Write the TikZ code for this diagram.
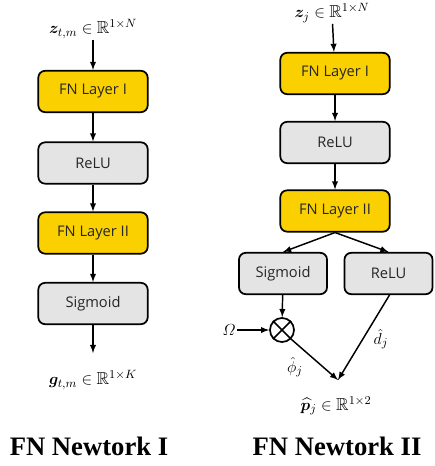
\documentclass[tikz,border=0pt]{standalone}
\usepackage{amsmath,amssymb,bm}
\usepackage{fontspec}
\setsansfont{Open Sans}
\newfontfamily\titlefont{Liberation Serif}
\usetikzlibrary{arrows,calc}
\definecolor{fnyellow}{RGB}{250,208,0}
\definecolor{actgray}{RGB}{228,228,228}

\begin{document}
\begin{tikzpicture}[x=0.75pt,y=-0.75pt,>=latex,
  blk/.style={draw=black,line width=1.3pt,rounded corners=5pt,minimum width=82pt,
    minimum height=31pt,inner sep=0pt,font=\sffamily\fontsize{11}{13}\selectfont,text=black!85},
  fn/.style={blk,fill=fnyellow},
  act/.style={blk,fill=actgray},
  lnk/.style={->,line width=1.1pt},
  lab/.style={font=\fontsize{13}{15}\selectfont,inner sep=1pt},
  ttl/.style={font=\titlefont\bfseries\fontsize{20}{22}\selectfont}]
\useasboundingbox (0,0) rectangle (434,466);

% FN Newtork I
\node[lab] (zA) at (93,29) {$\bm{z}_{t,m}\in\mathbb{R}^{1\times N}$};
\node[fn] (fnAa) at (93,91.5) {FN Layer I};
\node[act] (reluA) at (93,163) {ReLU};
\node[fn] (fnAb) at (93,233) {FN Layer II};
\node[act] (sigA) at (93,303.5) {Sigmoid};
\coordinate (gA) at (93,353);
\node[lab] (gAlab) at (93,380) {$\bm{g}_{t,m}\in\mathbb{R}^{1\times K}$};
\node[ttl] (ttlA) at (89,446) {FN Newtork I};

\draw[lnk] (zA) -- (fnAa);
\draw[lnk] (fnAa) -- (reluA);
\draw[lnk] (reluA) -- (fnAb);
\draw[lnk] (fnAb) -- (sigA);
\draw[lnk] (sigA) -- (gA);

% FN Newtork II
\node[lab] (zB) at (332,13) {$\bm{z}_{j}\in\mathbb{R}^{1\times N}$};
\node[fn] (fnBa) at (335,73.5) {FN Layer I};
\node[act] (reluB) at (335,142.5) {ReLU};
\node[fn] (fnBb) at (335,211) {FN Layer II};
\node[act,minimum width=66pt] (sigB) at (283,273.5) {Sigmoid};
\node[act,minimum width=66pt] (reluBb) at (388.5,273.5) {ReLU};
\node[draw,circle,line width=1.3pt,minimum size=18pt,inner sep=0pt] (mul) at (282,330) {};
\draw[line width=1.1pt] (mul.45) -- (mul.225) (mul.135) -- (mul.315);
\node[lab] (omg) at (229,330) {$\varOmega$};
\coordinate (pj) at (338,380);
\node[lab] (pjlab) at (336,406) {$\widehat{\bm{p}}_{j}\in\mathbb{R}^{1\times 2}$};
\node[lab] (phiB) at (295,367) {$\hat{\phi}_j$};
\node[lab] (dB) at (381,339) {$\hat{d}_j$};
\node[ttl] (ttlB) at (337,446) {FN Newtork II};

\draw[lnk] (zB) -- (fnBa);
\draw[lnk] (fnBa) -- (reluB);
\draw[lnk] (reluB) -- (fnBb);
\draw[lnk] (fnBb.south) -- (sigB.north);
\draw[lnk] (fnBb.south) -- (reluBb.north);
\draw[lnk] (sigB) -- (mul);
\draw[lnk] (omg) -- (mul);
\draw[lnk] (mul.315) -- (pj);
\draw[lnk] ($(reluBb.south)+(1,0)$) -- (pj);

\end{tikzpicture}
\end{document}
